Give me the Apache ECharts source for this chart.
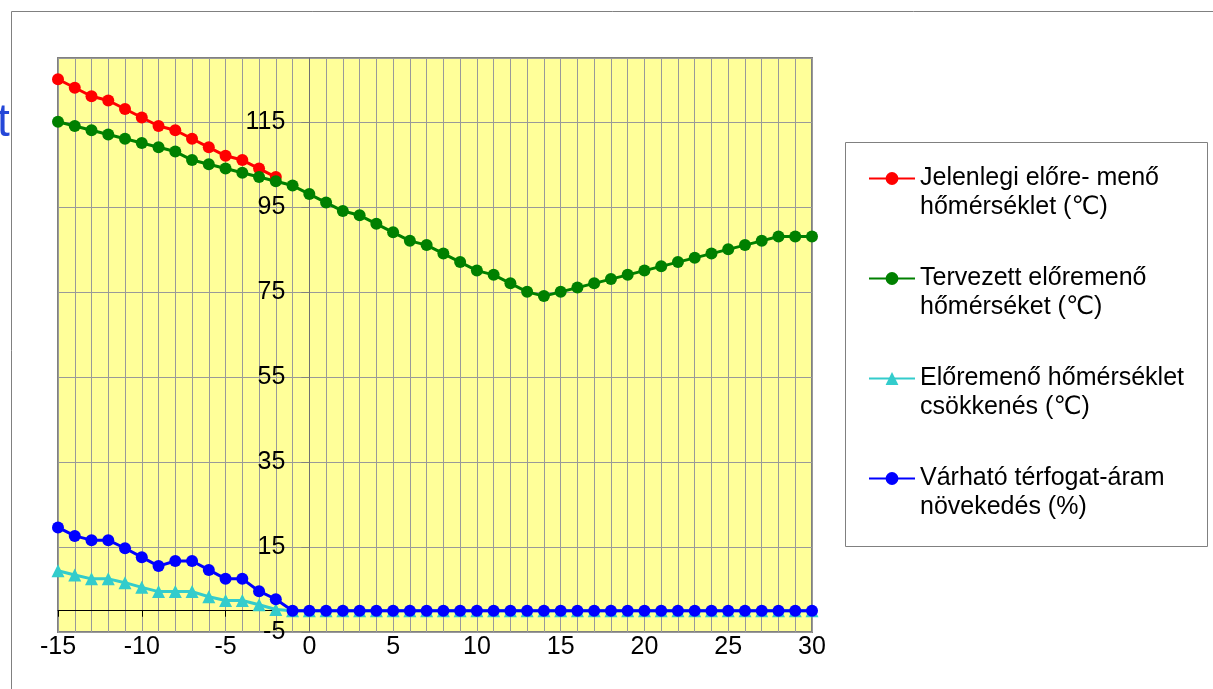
<!DOCTYPE html>
<html>
<head>
<meta charset="utf-8">
<script src="https://cdn.jsdelivr.net/npm/echarts@6/dist/echarts.min.js"></script>
<style>
  html, body { margin: 0; padding: 0; background: #ffffff; }
  #chart { width: 1213px; height: 689px; }
</style>
</head>
<body>
<div id="chart"></div>
<script>
// Outdoor temperature (°C) along the horizontal axis
const outdoorTemps = [-15, -14, -13, -12, -11, -10, -9, -8, -7, -6, -5, -4, -3, -2, -1,
  0, 1, 2, 3, 4, 5, 6, 7, 8, 9, 10, 11, 12, 13, 14,
  15, 16, 17, 18, 19, 20, 21, 22, 23, 24, 25, 26, 27, 28, 29, 30];

// Current supply temperature (°C), only defined from -15 to -2
const currentSupply = [125, 123, 121, 120, 118, 116, 114, 113, 111, 109, 107, 106, 104, 102];

// Planned supply temperature (°C)
const plannedSupply = [115, 114, 113, 112, 111, 110, 109, 108, 106, 105, 104, 103, 102, 101, 100,
  98, 96, 94, 93, 91, 89, 87, 86, 84, 82, 80, 79, 77, 75, 74,
  75, 76, 77, 78, 79, 80, 81, 82, 83, 84, 85, 86, 87, 88, 88, 88];

// Supply temperature reduction (°C)
const supplyDrop = [9.4, 8.4, 7.5, 7.5, 6.6, 5.5, 4.5, 4.5, 4.5, 3.3, 2.4, 2.4, 1.4, 0.3, 0,
  0, 0, 0, 0, 0, 0, 0, 0, 0, 0, 0, 0, 0, 0, 0,
  0, 0, 0, 0, 0, 0, 0, 0, 0, 0, 0, 0, 0, 0, 0, 0];

// Expected volume-flow increase (%)
const flowIncrease = [19.6, 17.6, 16.6, 16.6, 14.7, 12.6, 10.5, 11.7, 11.7, 9.6, 7.5, 7.5, 4.6, 2.7, 0,
  0, 0, 0, 0, 0, 0, 0, 0, 0, 0, 0, 0, 0, 0, 0,
  0, 0, 0, 0, 0, 0, 0, 0, 0, 0, 0, 0, 0, 0, 0, 0];

const seriesNames = [
  'Jelenlegi előre- menő hőmérséklet (℃)',
  'Tervezett előremenő hőmérséket (℃)',
  'Előremenő hőmérséklet csökkenés (℃)',
  'Várható térfogat-áram növekedés (%)'
];
const legendLines = [
  ['Jelenlegi előre- menő', 'hőmérséklet (℃)'],
  ['Tervezett előremenő', 'hőmérséket (℃)'],
  ['Előremenő hőmérséklet', 'csökkenés (℃)'],
  ['Várható térfogat-áram', 'növekedés (%)']
];

const yTickStep = 20;
const yMin = -5;
const yMax = 130;
const xMin = -15;
const xMax = 30;
const xLabelStep = 5;

const FONT = "'Liberation Sans', Arial, 'DejaVu Sans', sans-serif";

const GRID = { left: 58, right: 401, top: 58, bottom: 57 };
// the value axis crosses the temperature axis at 0 °C
const plotWidth = 1213 - GRID.left - GRID.right;
const yAxisShift = -plotWidth * (0 - xMin) / (xMax - xMin);

function pairs(values) {
  return values.map((v, i) => [outdoorTemps[i], v]);
}

const chart = echarts.init(document.getElementById('chart'), null, { renderer: 'canvas' });

const option = {
  animation: false,
  backgroundColor: '#ffffff',
  textStyle: { fontFamily: FONT },
  grid: {
    left: GRID.left, right: GRID.right, top: GRID.top, bottom: GRID.bottom,
    show: true,
    backgroundColor: '#ffff99',
    borderColor: '#808080',
    borderWidth: 2
  },
  graphic: [
    {
      type: 'rect', z: 0, silent: true,
      shape: { x: 11.5, y: 11.5, width: 1400, height: 900 },
      style: { fill: null, stroke: '#808080', lineWidth: 1 }
    },
    {
      type: 'text', z: 0, silent: true,
      left: -3, top: 100,
      style: { text: 't', fill: '#2447d8', fontSize: 46, fontFamily: FONT }
    },
    {
      type: 'rect', z: 0, silent: true,
      shape: { x: 845.5, y: 142.5, width: 362, height: 404 },
      style: { fill: '#ffffff', stroke: '#808080', lineWidth: 1 }
    }
  ],
  legend: {
    orient: 'vertical',
    left: 868,
    top: 135,
    padding: 0,
    itemGap: 13,
    itemWidth: 46,
    itemHeight: 16,
    data: seriesNames,
    formatter: function (name) {
      const lines = legendLines[seriesNames.indexOf(name)];
      return '\n' + lines.join('\n');
    },
    textStyle: {
      fontFamily: FONT,
      fontSize: 25,
      lineHeight: 29,
      color: '#000000'
    }
  },
  xAxis: [
    {
      type: 'value',
      min: xMin, max: xMax, interval: 1,
      position: 'bottom',
      axisLine: { show: false, onZero: false },
      axisTick: { show: false },
      axisLabel: {
        fontFamily: FONT, fontSize: 25, color: '#000000', margin: 3,
        formatter: function (v) { return v % xLabelStep === 0 ? String(v) : ''; }
      },
      splitLine: { show: true, lineStyle: { color: '#999999', width: 1 } }
    },
    {
      type: 'value',
      min: xMin, max: xMax, interval: xLabelStep,
      position: 'bottom',
      axisLine: { show: true, onZero: true, lineStyle: { color: '#000000', width: 1 } },
      axisTick: { show: true, length: 6, lineStyle: { color: '#000000', width: 1 } },
      axisLabel: { show: false },
      splitLine: { show: false }
    }
  ],
  yAxis: {
    type: 'value',
    min: yMin, max: yMax, interval: yTickStep,
    position: 'left',
    offset: yAxisShift,
    axisLine: { show: true, onZero: false, lineStyle: { color: '#707070', width: 1 } },
    axisTick: { show: true, length: 8, lineStyle: { color: '#808080' } },
    axisLabel: {
      fontFamily: FONT, fontSize: 25, color: '#000000', margin: 24,
      showMaxLabel: false
    },
    splitLine: { show: true, lineStyle: { color: '#999999', width: 1 } }
  },
  series: [
    {
      name: seriesNames[0], type: 'line', xAxisIndex: 0,
      data: pairs(currentSupply),
      symbol: 'circle', symbolSize: 12,
      lineStyle: { color: '#ff0000', width: 3 },
      itemStyle: { color: '#ff0000' }
    },
    {
      name: seriesNames[1], type: 'line', xAxisIndex: 0,
      data: pairs(plannedSupply),
      symbol: 'circle', symbolSize: 12,
      lineStyle: { color: '#008000', width: 3 },
      itemStyle: { color: '#008000' }
    },
    {
      name: seriesNames[2], type: 'line', xAxisIndex: 0,
      data: pairs(supplyDrop),
      symbol: 'triangle', symbolSize: 13,
      lineStyle: { color: '#33cccc', width: 3 },
      itemStyle: { color: '#33cccc' }
    },
    {
      name: seriesNames[3], type: 'line', xAxisIndex: 0,
      data: pairs(flowIncrease),
      symbol: 'circle', symbolSize: 12,
      lineStyle: { color: '#0000ff', width: 3 },
      itemStyle: { color: '#0000ff' }
    }
  ]
};

chart.setOption(option);
</script>
</body>
</html>
